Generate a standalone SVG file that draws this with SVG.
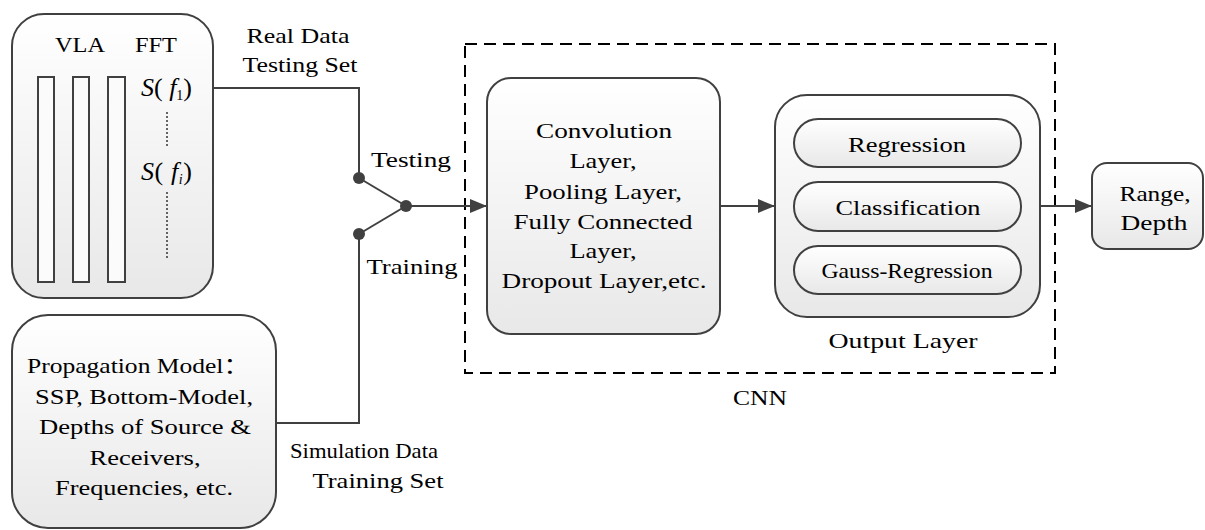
<svg xmlns="http://www.w3.org/2000/svg" width="1205" height="530" viewBox="0 0 1205 530">
<defs>
<linearGradient id="g" x1="0" y1="0" x2="0" y2="1">
<stop offset="0" stop-color="#ffffff"/>
<stop offset="1" stop-color="#e8e8e8"/>
</linearGradient>
<marker id="arr" markerWidth="18" markerHeight="14" refX="17" refY="7" orient="auto" markerUnits="userSpaceOnUse">
<path d="M0,0 L17,7 L0,14 Z" fill="#404040"/>
</marker>
<style>
.box{fill:url(#g);stroke:#404040;stroke-width:2}
.bar{fill:#fbfbfb;stroke:#404040;stroke-width:2}
.ln{fill:none;stroke:#404040;stroke-width:2}
.dot{fill:#404040}
.t{font-family:"Liberation Serif","Noto Sans CJK SC",serif;font-size:22px;fill:#000;text-anchor:middle}
.m{font-family:"Liberation Serif",serif;font-size:26px;fill:#000}
.dash{fill:none;stroke:#000;stroke-width:2;stroke-dasharray:12 7}
.dl{stroke:#404040;stroke-width:1.6;stroke-dasharray:2 2}
</style>
</defs>
<rect width="1205" height="530" fill="#ffffff"/>

<g id="cnn">
<rect class="dash" x="465" y="44" width="590" height="329"/>
<text class="t" x="760" y="405" textLength="54" lengthAdjust="spacingAndGlyphs">CNN</text>
</g>

<g id="connectors">
<polyline class="ln" points="213,88 359,88 359,178"/>
<polyline class="ln" points="276,423 359,423 359,234"/>
<line class="ln" x1="359" y1="178" x2="406" y2="206"/>
<line class="ln" x1="359" y1="234" x2="406" y2="206"/>
<line class="ln" x1="406" y1="206" x2="487" y2="206" marker-end="url(#arr)"/>
<line class="ln" x1="720" y1="206" x2="775" y2="206" marker-end="url(#arr)"/>
<line class="ln" x1="1040" y1="206" x2="1092" y2="206" marker-end="url(#arr)"/>
<circle class="dot" cx="359" cy="178" r="6"/>
<circle class="dot" cx="359" cy="234" r="6"/>
<circle class="dot" cx="406" cy="206" r="6"/>
<text class="t" x="298" y="43" textLength="103" lengthAdjust="spacingAndGlyphs">Real Data</text>
<text class="t" x="300" y="72" textLength="115" lengthAdjust="spacingAndGlyphs">Testing Set</text>
<text class="t" x="411" y="167" textLength="80" lengthAdjust="spacingAndGlyphs">Testing</text>
<text class="t" x="412" y="274" textLength="91" lengthAdjust="spacingAndGlyphs">Training</text>
<text class="t" x="364" y="458" textLength="148" lengthAdjust="spacingAndGlyphs">Simulation Data</text>
<text class="t" x="378" y="488" textLength="131" lengthAdjust="spacingAndGlyphs">Training Set</text>
</g>

<g id="vla">
<rect class="box" x="12" y="14" width="201" height="284" rx="32" ry="32"/>
<rect class="bar" x="38" y="77" width="16" height="205"/>
<rect class="bar" x="73" y="77" width="16" height="205"/>
<rect class="bar" x="108" y="77" width="17" height="205"/>
<text class="t" x="80" y="52" textLength="50" lengthAdjust="spacingAndGlyphs">VLA</text>
<text class="t" x="156" y="52" textLength="42" lengthAdjust="spacingAndGlyphs">FFT</text>
<text class="m" x="141" y="96" textLength="51" lengthAdjust="spacing"><tspan font-style="italic">S</tspan>( <tspan font-style="italic">f</tspan><tspan font-size="14" dy="4">1</tspan><tspan dy="-4">)</tspan></text>
<line class="dl" x1="167" y1="112" x2="167" y2="147"/>
<text class="m" x="141" y="180" textLength="51" lengthAdjust="spacing"><tspan font-style="italic">S</tspan>( <tspan font-style="italic">f</tspan><tspan font-size="14" font-style="italic" dy="4">i</tspan><tspan dy="-4">)</tspan></text>
<line class="dl" x1="167" y1="192" x2="167" y2="258"/>
</g>

<g id="propagation">
<rect class="box" x="12" y="315" width="264" height="213" rx="36" ry="36"/>
<text class="t" x="138" y="373" textLength="222" lengthAdjust="spacingAndGlyphs">Propagation Model：</text>
<text class="t" x="144" y="404" textLength="218" lengthAdjust="spacingAndGlyphs">SSP, Bottom-Model,</text>
<text class="t" x="145" y="434" textLength="212" lengthAdjust="spacingAndGlyphs">Depths of Source &amp;</text>
<text class="t" x="145" y="465" textLength="111" lengthAdjust="spacingAndGlyphs">Receivers,</text>
<text class="t" x="144" y="495" textLength="178" lengthAdjust="spacingAndGlyphs">Frequencies, etc.</text>
</g>

<g id="conv">
<rect class="box" x="487" y="78" width="233" height="256" rx="24" ry="24"/>
<text class="t" x="604" y="138" textLength="136" lengthAdjust="spacingAndGlyphs">Convolution</text>
<text class="t" x="603" y="168" textLength="67" lengthAdjust="spacingAndGlyphs">Layer,</text>
<text class="t" x="603" y="199" textLength="158" lengthAdjust="spacingAndGlyphs">Pooling Layer,</text>
<text class="t" x="603" y="229" textLength="179" lengthAdjust="spacingAndGlyphs">Fully Connected</text>
<text class="t" x="603" y="258" textLength="67" lengthAdjust="spacingAndGlyphs">Layer,</text>
<text class="t" x="604" y="288" textLength="205" lengthAdjust="spacingAndGlyphs">Dropout Layer,etc.</text>
</g>

<g id="output">
<rect class="box" x="775" y="95" width="265" height="222" rx="32" ry="32"/>
<rect class="box" x="794" y="119" width="227" height="48" rx="24" ry="24"/>
<rect class="box" x="794" y="182" width="227" height="49" rx="24" ry="24"/>
<rect class="box" x="794" y="246" width="227" height="48" rx="24" ry="24"/>
<text class="t" x="907" y="152" textLength="118" lengthAdjust="spacingAndGlyphs">Regression</text>
<text class="t" x="908" y="215" textLength="145" lengthAdjust="spacingAndGlyphs">Classification</text>
<text class="t" x="907" y="278" font-size="19" textLength="171" lengthAdjust="spacingAndGlyphs">Gauss-Regression</text>
<text class="t" x="903" y="348" textLength="149" lengthAdjust="spacingAndGlyphs">Output Layer</text>
</g>

<g id="result">
<rect class="box" x="1092" y="163" width="111" height="86" rx="15" ry="15"/>
<text class="t" x="1155" y="201" textLength="71" lengthAdjust="spacingAndGlyphs">Range,</text>
<text class="t" x="1154" y="230" textLength="67" lengthAdjust="spacingAndGlyphs">Depth</text>
</g>
</svg>
